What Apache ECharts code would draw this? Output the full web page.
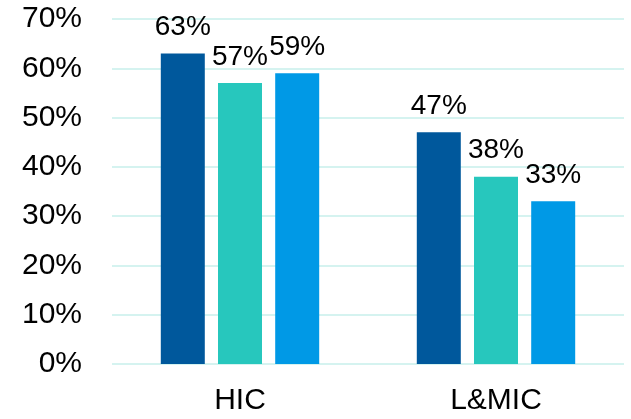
<!DOCTYPE html>
<html><head><meta charset="utf-8">
<script src="https://cdn.jsdelivr.net/npm/echarts@6/dist/echarts.min.js"></script>
<style>html,body{margin:0;padding:0;background:#fff}#c{width:631px;height:419px}</style>
</head><body><div id="c"></div>
<script>
const categories = ['HIC', 'L&MIC'];
const series1 = [63, 47];
const series2 = [57, 38];
const series3 = [59, 33];
const yTicks = [0, 10, 20, 30, 40, 50, 60, 70];
const colors = ['#00589C', '#27C7BD', '#0099E6'];

const chart = echarts.init(document.getElementById('c'));
const lbl = {show: true, position: 'top', formatter: p => p.value + '%', color: '#000', fontFamily: 'Liberation Sans, Arial', fontSize: 28, distance: 12};
const mk = (name, data, i) => ({name, type: 'bar', data, barWidth: 44, barGap: '30%', itemStyle: {color: colors[i]}, label: lbl});
chart.setOption({
  animation: false,
  grid: {left: 112, right: 7, top: 19, bottom: 55},
  xAxis: {type: 'category', data: categories, axisLine: {show: false}, axisTick: {show: false},
    axisLabel: {color: '#000', fontFamily: 'Liberation Sans, Arial', fontSize: 30, margin: 22}},
  yAxis: {type: 'value', min: yTicks[0], max: yTicks[yTicks.length - 1], interval: 10,
    axisLabel: {formatter: v => v + '%', color: '#000', fontFamily: 'Liberation Sans, Arial', fontSize: 30, margin: 30},
    splitLine: {lineStyle: {color: '#D5F3F0', width: 2}}},
  series: [mk('s1', series1, 0), mk('s2', series2, 1), mk('s3', series3, 2)]
});
</script></body></html>
